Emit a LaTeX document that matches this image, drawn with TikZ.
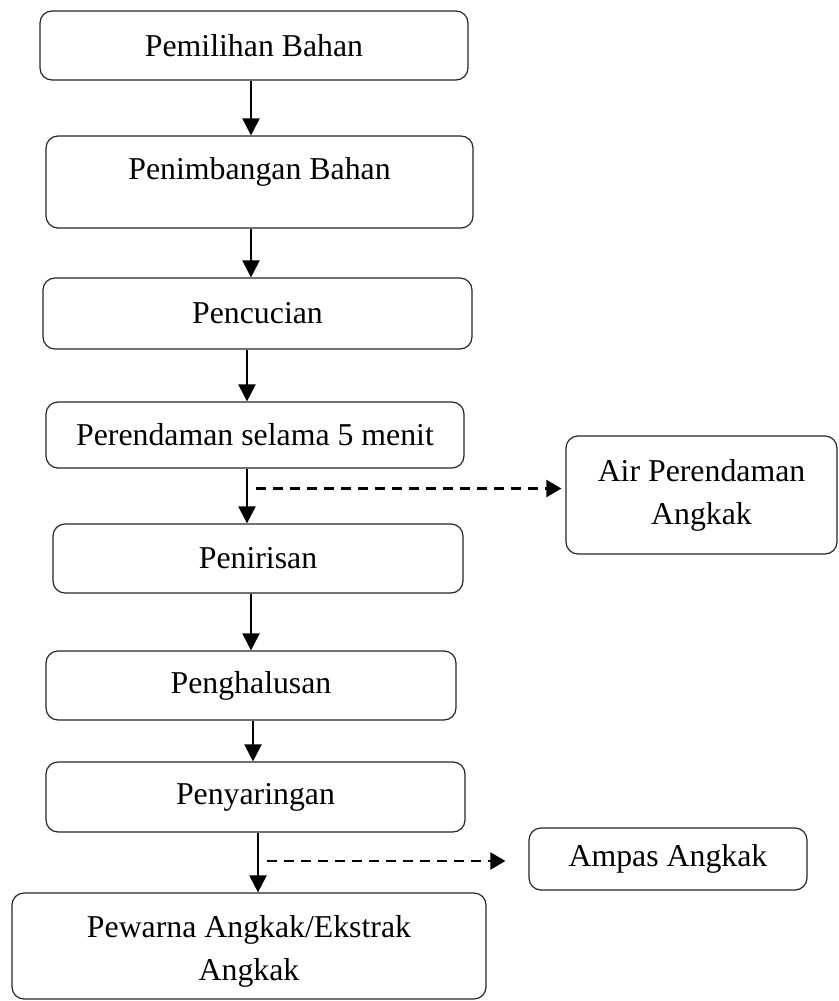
\documentclass[tikz,border=0pt]{standalone}
\usepackage{fontspec}
\setmainfont{Liberation Serif}
\usetikzlibrary{arrows.meta}
\begin{document}
\begin{tikzpicture}[x=1pt,y=-1pt,
  box/.style={draw=black!85, line width=1.2pt, rounded corners=12pt, inner sep=0pt,
    align=center, font=\fontsize{31.8}{43}\selectfont},
  arr/.style={line width=2.2pt, -{Triangle[length=17pt,width=17pt]}},
  darr/.style={line width=2.2pt, dash pattern=on 10pt off 7pt, -{Triangle[length=15pt,width=17pt]}}]
\useasboundingbox (0,0) rectangle (838,1001);
\node[box, minimum width=428pt, minimum height=69pt] (n1) at (254,45.5) {Pemilihan Bahan};
\node[box, minimum width=427pt, minimum height=92pt, label={[font=\fontsize{31.8}{43}\selectfont, yshift=10pt]center:Penimbangan Bahan}] (n2) at (259.5,182) {};
\node[box, minimum width=429pt, minimum height=71pt] (n3) at (257.5,313.5) {Pencucian};
\node[box, minimum width=418pt, minimum height=66pt] (n4) at (255,435) {Perendaman selama 5 menit};
\node[box, minimum width=271pt, minimum height=118pt] (air) at (701.5,495) {Air Perendaman\\Angkak};
\node[box, minimum width=410pt, minimum height=69pt] (n5) at (258,558.5) {Penirisan};
\node[box, minimum width=410pt, minimum height=69pt] (n6) at (251,685.5) {Penghalusan};
\node[box, minimum width=419pt, minimum height=70pt] (n7) at (255.5,797) {Penyaringan};
\node[box, minimum width=278pt, minimum height=62pt] (ampas) at (668,859) {Ampas Angkak};
\node[box, minimum width=474pt, minimum height=106pt, label={[font=\fontsize{31.8}{43}\selectfont, align=center, yshift=-5pt]center:Pewarna Angkak/Ekstrak\\Angkak}] (n8) at (249,946) {};
\coordinate (xa) at (251,0);
\coordinate (xb) at (247,0);
\coordinate (xc) at (253,0);
\coordinate (xd) at (258,0);
\draw[arr] (n1.south -| xa) -- (n2.north -| xa);
\draw[arr] (n2.south -| xa) -- (n3.north -| xa);
\draw[arr] (n3.south -| xb) -- (n4.north -| xb);
\draw[arr] (n4.south -| xb) -- (n5.north -| xb);
\draw[arr] (n5.south -| xa) -- (n6.north -| xa);
\draw[arr] (n6.south -| xc) -- (n7.north -| xc);
\draw[arr] (n7.south -| xd) -- (n8.north -| xd);
\coordinate (d1) at (256,488.5);
\coordinate (d2) at (267,861);
\draw[darr, shorten >=4pt] (d1) -- (d1 -| air.west);
\draw[darr, shorten >=23pt] (d2) -- (d2 -| ampas.west);
\end{tikzpicture}
\end{document}
